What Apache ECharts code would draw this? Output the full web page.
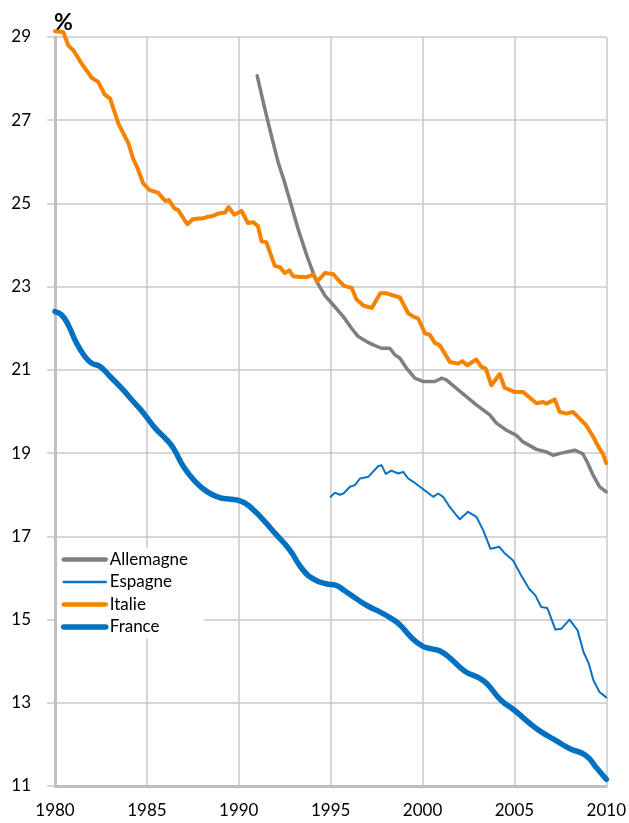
<!DOCTYPE html>
<html>
<head>
<meta charset="utf-8">
<script src="https://cdn.jsdelivr.net/npm/echarts@6/dist/echarts.min.js"></script>
<style>
  html, body { margin: 0; padding: 0; background: #fff; }
  #chart { width: 629px; height: 823px; }
</style>
</head>
<body>
<div id="chart"></div>
<script>
// [year, %]
var allemagne = [[1991.0,28.07],[1991.42,27.27],[1991.78,26.62],[1992.15,25.98],[1992.5,25.5],[1992.87,24.94],[1993.24,24.37],[1993.7,23.75],[1994.2,23.15],[1994.7,22.78],[1995.14,22.56],[1995.69,22.28],[1996.14,22.0],[1996.5,21.8],[1996.96,21.68],[1997.32,21.6],[1997.77,21.52],[1998.22,21.52],[1998.5,21.36],[1998.77,21.28],[1999.13,21.04],[1999.58,20.8],[2000.04,20.72],[2000.67,20.72],[2001.03,20.8],[2001.3,20.76],[2001.94,20.52],[2002.39,20.36],[2002.93,20.16],[2003.66,19.92],[2004.02,19.72],[2004.57,19.55],[2005.1,19.43],[2005.47,19.27],[2006.2,19.09],[2006.74,19.03],[2007.1,18.95],[2007.55,19.0],[2008.28,19.07],[2008.73,18.98],[2009.0,18.75],[2009.28,18.47],[2009.64,18.19],[2010.0,18.07]];

var espagne = [[1995.0,17.95],[1995.24,18.05],[1995.5,18.0],[1995.7,18.03],[1996.05,18.19],[1996.32,18.23],[1996.6,18.39],[1997.05,18.43],[1997.3,18.55],[1997.6,18.69],[1997.77,18.71],[1998.0,18.5],[1998.3,18.58],[1998.68,18.51],[1998.95,18.55],[1999.22,18.39],[1999.5,18.31],[2000.04,18.13],[2000.58,17.95],[2000.85,18.03],[2001.12,17.95],[2001.49,17.7],[2001.76,17.55],[2002.03,17.41],[2002.48,17.59],[2002.93,17.47],[2003.3,17.15],[2003.7,16.7],[2004.17,16.75],[2004.5,16.58],[2004.93,16.42],[2005.37,16.06],[2005.8,15.74],[2006.14,15.58],[2006.46,15.3],[2006.79,15.28],[2007.23,14.76],[2007.56,14.78],[2008.0,15.0],[2008.44,14.74],[2008.76,14.22],[2009.05,13.94],[2009.3,13.54],[2009.63,13.26],[2010.0,13.13]];

var italie = [[1980.0,29.14],[1980.45,29.12],[1980.72,28.8],[1981.0,28.68],[1981.45,28.36],[1982.0,28.02],[1982.35,27.92],[1982.7,27.62],[1983.0,27.52],[1983.45,26.92],[1984.0,26.44],[1984.25,26.08],[1984.5,25.84],[1984.8,25.48],[1985.15,25.32],[1985.6,25.26],[1985.7,25.28],[1986.0,25.06],[1986.2,25.08],[1986.5,24.88],[1986.7,24.84],[1987.2,24.5],[1987.5,24.62],[1987.8,24.64],[1988.05,24.64],[1988.3,24.68],[1988.6,24.7],[1988.9,24.76],[1989.25,24.78],[1989.45,24.91],[1989.75,24.73],[1990.15,24.82],[1990.5,24.53],[1990.8,24.55],[1991.05,24.45],[1991.24,24.09],[1991.5,24.07],[1991.96,23.5],[1992.24,23.47],[1992.5,23.33],[1992.75,23.39],[1992.96,23.25],[1993.33,23.23],[1993.7,23.23],[1994.05,23.29],[1994.27,23.13],[1994.7,23.33],[1995.15,23.3],[1995.4,23.17],[1995.73,23.02],[1996.15,22.97],[1996.4,22.7],[1996.8,22.54],[1997.24,22.49],[1997.7,22.84],[1998.05,22.84],[1998.77,22.74],[1999.22,22.36],[1999.5,22.28],[1999.76,22.24],[2000.13,21.88],[2000.4,21.84],[2000.67,21.65],[2000.94,21.59],[2001.49,21.19],[2001.94,21.15],[2002.17,21.21],[2002.43,21.11],[2002.93,21.25],[2003.2,21.07],[2003.44,21.03],[2003.75,20.63],[2004.2,20.9],[2004.47,20.57],[2005.0,20.47],[2005.47,20.47],[2006.2,20.2],[2006.56,20.23],[2006.74,20.19],[2007.2,20.29],[2007.46,19.99],[2007.83,19.95],[2008.19,19.99],[2008.55,19.83],[2008.9,19.67],[2009.28,19.4],[2009.64,19.1],[2009.82,18.98],[2010.0,18.76]];

var france = [[1980.0,22.4],[1980.36,22.32],[1980.72,22.08],[1981.18,21.64],[1981.63,21.32],[1982.0,21.16],[1982.45,21.08],[1983.0,20.84],[1983.71,20.52],[1984.26,20.24],[1984.82,19.96],[1985.45,19.6],[1986.08,19.32],[1986.44,19.12],[1986.99,18.68],[1987.62,18.32],[1988.25,18.08],[1988.88,17.94],[1989.42,17.9],[1990.14,17.84],[1990.69,17.68],[1991.32,17.4],[1992.04,17.04],[1992.76,16.68],[1993.48,16.2],[1994.12,15.96],[1994.75,15.86],[1995.3,15.82],[1995.74,15.7],[1996.4,15.5],[1997.05,15.32],[1997.7,15.18],[1998.47,14.98],[1998.8,14.86],[1999.46,14.54],[2000.0,14.36],[2000.44,14.3],[2000.98,14.24],[2001.53,14.06],[2002.3,13.76],[2003.07,13.6],[2003.5,13.46],[2004.27,13.06],[2005.0,12.82],[2005.8,12.52],[2006.46,12.3],[2007.23,12.1],[2008.0,11.9],[2008.87,11.74],[2009.5,11.42],[2010.0,11.16]];

var seriesNames = ['Allemagne', 'Espagne', 'Italie', 'France'];
var seriesColors = ['#7f7f7f', '#0a72c4', '#f58200', '#0070c0'];
var seriesWidths = [3.5, 2, 4, 5.5];
var legendWidths = [4.5, 2.5, 4.5, 5.5];

var chart = echarts.init(document.getElementById('chart'));
var font = 'Lato';
var gridColor = '#c8c8c8';

function line(i, data, smooth) {
    return {
        name: seriesNames[i],
        type: 'line',
        data: data,
        showSymbol: false,
        symbol: 'none',
        smooth: smooth,
        clip: false,
        color: seriesColors[i],
        lineStyle: { color: seriesColors[i], width: seriesWidths[i], cap: 'round', join: 'round' }
    };
}

var option = {
    backgroundColor: '#fff',
    animation: false,
    textStyle: { fontFamily: font },
    grid: { left: 55, right: 22, top: 37, bottom: 37 },
    legend: {
        orient: 'vertical',
        left: 57,
        top: 548,
        data: seriesNames.map(function (n, i) {
            return { name: n, lineStyle: { width: legendWidths[i], cap: 'round' } };
        }),
        backgroundColor: '#fff',
        padding: [3, 16, 3, 4],
        itemGap: 5.5,
        itemWidth: 42,
        itemHeight: 17,
        itemStyle: { color: 'rgba(0,0,0,0)', borderWidth: 0, opacity: 0 },
        textStyle: { fontFamily: font, fontSize: 17, color: '#000', padding: [0, 0, 0, -1] }
    },
    xAxis: {
        type: 'value',
        min: 1980,
        max: 2010,
        interval: 5,
        axisLine: { show: true, lineStyle: { color: '#bfbfbf', width: 3 } },
        axisTick: { show: false },
        splitLine: { show: true, lineStyle: { color: gridColor, width: 1.5 } },
        axisLabel: {
            fontFamily: font, fontSize: 17, color: '#000', margin: 16,
            formatter: function (v) { return String(v); }
        }
    },
    yAxis: {
        type: 'value',
        min: 11,
        max: 29,
        interval: 2,
        name: '%',
        nameLocation: 'end',
        nameGap: 3,
        nameTextStyle: { fontFamily: font, fontSize: 23, fontWeight: 'bold', color: '#000', align: 'left', padding: [0, 0, 0, -1] },
        axisLine: { show: true, lineStyle: { color: '#bfbfbf', width: 3 } },
        axisTick: { show: true, length: 8, lineStyle: { color: gridColor, width: 1.5 } },
        splitLine: { show: true, lineStyle: { color: gridColor, width: 1.5 } },
        axisLabel: { fontFamily: font, fontSize: 17, color: '#000', margin: 24 }
    },
    series: [
        line(0, allemagne, false),
        line(1, espagne, false),
        line(2, italie, false),
        line(3, france, true)
    ]
};

chart.setOption(option);

window.onresize = chart.resize;
</script>
</body>
</html>
